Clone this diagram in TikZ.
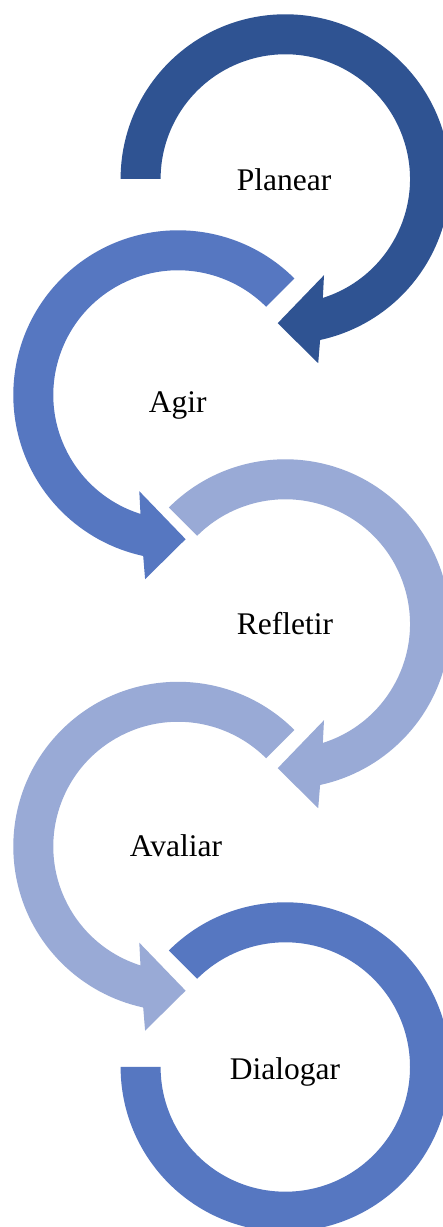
\documentclass[tikz,border=0pt]{standalone}
\usepackage{fontspec}
\setmainfont{Liberation Serif}
\definecolor{ringdark}{HTML}{2F5392}
\definecolor{ringmid}{HTML}{5677C1}
\definecolor{ringlight}{HTML}{99AAD6}
\def\RingOut{164.7}
\def\RingIn{124.7}
\tikzset{
  % clockwise ring arrow, opening at the given start angle, head at lower left
  pics/cwarrow/.style={code={
    \fill[pic actions] (#1:\RingOut)
      arc[start angle=#1, end angle=-77.8, radius=\RingOut]
      -- (32.9,-184.2) -- (-7.6,-144.2) -- (38.7,-96.2)
      -- (-72.48:\RingIn)
      arc[start angle=-72.48, end angle=#1, radius=\RingIn] -- cycle;
  }},
  % counter-clockwise ring arrow, head at lower right
  pics/ccwarrow/.style={code={
    \fill[pic actions] (#1:\RingOut)
      arc[start angle=#1, end angle=257.8, radius=\RingOut]
      -- (-32.9,-184.2) -- (7.6,-144.2) -- (-38.7,-96.2)
      -- (252.48:\RingIn)
      arc[start angle=252.48, end angle=#1, radius=\RingIn] -- cycle;
  }},
  % closing ring without a head
  pics/endring/.style={code={
    \fill[pic actions] (#1:\RingOut)
      arc[start angle=#1, end angle=-180, radius=\RingOut]
      -- (-180:\RingIn)
      arc[start angle=-180, end angle=#1, radius=\RingIn] -- cycle;
  }},
  ringlabel/.style={font=\fontsize{31.5}{36}\selectfont, anchor=base, inner sep=0pt, text=black}
}
\begin{document}
\begin{tikzpicture}[x=1pt, y=1pt]
  \useasboundingbox (0,0) rectangle (443,1227);
  \clip (0,0) rectangle (443,1227);
  \fill[white] (0,0) rectangle (443,1227);

  \pic[fill=ringdark]  at (285.3,1048)  {cwarrow=180};
  \pic[fill=ringmid]   at (178,832)     {ccwarrow=45};
  \pic[fill=ringlight] at (285.3,603)   {cwarrow=135};
  \pic[fill=ringlight] at (178,380.5)   {ccwarrow=45};
  \pic[fill=ringmid]   at (285.3,160)   {endring=135};

  \node[ringlabel] (planear)  at (284,1036.3)  {Planear};
  \node[ringlabel] (agir)     at (177.8,814.5) {Agir};
  \node[ringlabel] (refletir) at (285,592.7)   {Refletir};
  \node[ringlabel] (avaliar)  at (176,370.3)   {Avaliar};
  \node[ringlabel] (dialogar) at (285,147.7)   {Dialogar};
\end{tikzpicture}
\end{document}
